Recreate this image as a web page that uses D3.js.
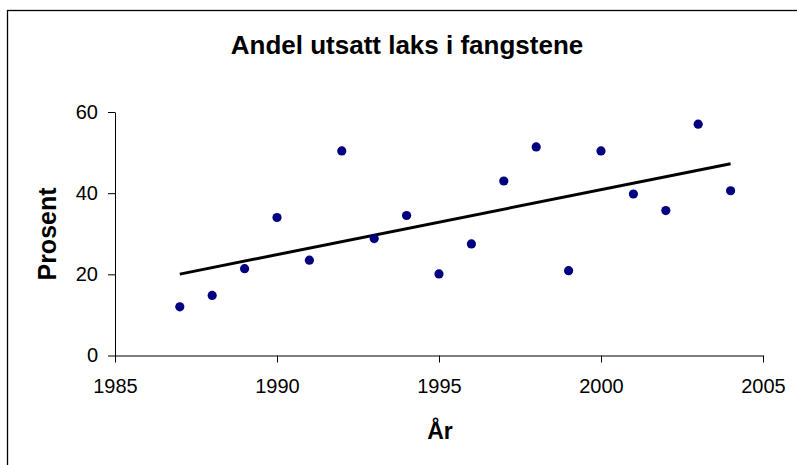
<!DOCTYPE html>
<html><head><meta charset="utf-8">
<script src="https://cdn.jsdelivr.net/npm/d3@7"></script>
<style>body{margin:0;background:#fff} svg{display:block}</style>
</head><body><svg width="797" height="465"></svg>
<script>
const years  = [1987,1988,1989,1990,1991,1992,1993,1994,1995,1996,1997,1998,1999,2000,2001,2002,2003,2004];
const values = [12.0,14.8,21.4,34.0,23.5,50.4,28.8,34.5,20.1,27.5,43.0,51.4,20.9,50.4,39.8,35.7,57.0,40.6];
const xTicks = [1985,1990,1995,2000,2005];
const yTicks = [0,20,40,60];
const title = "Andel utsatt laks i fangstene";
const xLabel = "År";
const yLabel = "Prosent";

const svg = d3.select("svg");
const font = "'Liberation Sans', Arial, sans-serif";

svg.append("rect").attr("x",7.5).attr("y",10.5).attr("width",1000).attr("height",1000)
  .attr("fill","#fff").attr("stroke","#000").attr("stroke-width",1.3);

const x = d3.scaleLinear().domain([1985,2005]).range([115,763]);
const y = d3.scaleLinear().domain([0,60]).range([355.5,112]);

const yAxis = svg.append("g").attr("transform","translate(115,0)")
  .call(d3.axisLeft(y).tickValues(yTicks).tickFormat(d3.format("d")).tickSize(7).tickPadding(10).tickSizeOuter(0));
const xAxis = svg.append("g").attr("transform","translate(0,355.5)")
  .call(d3.axisBottom(x).tickValues(xTicks).tickFormat(d3.format("d")).tickSize(7).tickPadding(16).tickSizeOuter(0));
[yAxis,xAxis].forEach(g=>{
  g.select(".domain").attr("stroke","#000");
  g.selectAll(".tick line").attr("stroke","#000");
  g.selectAll("text").attr("font-family",font).attr("font-size",20).attr("fill","#000");
});

// least-squares trend line from the data
const n = years.length;
const mx = d3.mean(years), my = d3.mean(values);
let sxy=0, sxx=0;
for(let i=0;i<n;i++){ sxy += (years[i]-mx)*(values[i]-my); sxx += (years[i]-mx)**2; }
const slope = sxy/sxx, icpt = my - slope*mx;
const x0 = d3.min(years), x1 = d3.max(years);
svg.append("line")
  .attr("x1",x(x0)).attr("y1",y(icpt+slope*x0))
  .attr("x2",x(x1)).attr("y2",y(icpt+slope*x1))
  .attr("stroke","#000").attr("stroke-width",3);

svg.append("g").selectAll("circle").data(years).join("circle")
  .attr("cx",(d)=>x(d)).attr("cy",(d,i)=>y(values[i])).attr("r",4.6)
  .attr("fill","#000080");

svg.append("text").attr("x",407).attr("y",54).attr("text-anchor","middle")
  .attr("font-family",font).attr("font-weight","bold").attr("font-size",26).text(title);
svg.append("text").attr("x",440).attr("y",439).attr("text-anchor","middle")
  .attr("font-family",font).attr("font-weight","bold").attr("font-size",23).text(xLabel);
svg.append("text").attr("transform","translate(56,234) rotate(-90)").attr("text-anchor","middle")
  .attr("font-family",font).attr("font-weight","bold").attr("font-size",25).text(yLabel);
</script>
</body></html>
